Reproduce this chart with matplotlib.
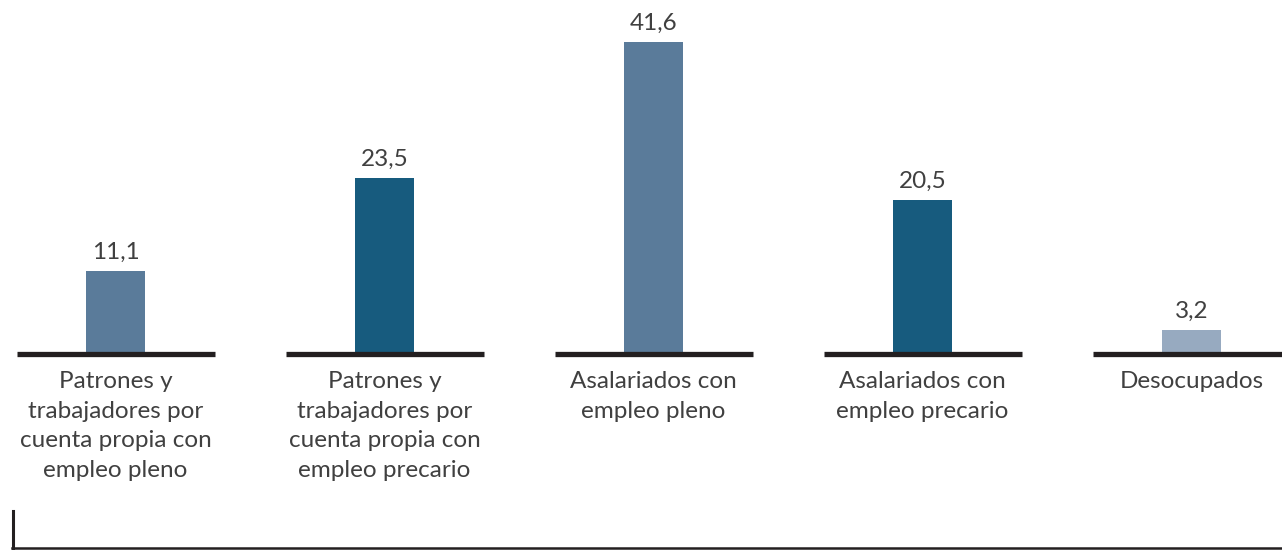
import matplotlib.pyplot as plt
from matplotlib.lines import Line2D

categories = [
    "Patrones y\ntrabajadores por\ncuenta propia con\nempleo pleno",
    "Patrones y\ntrabajadores por\ncuenta propia con\nempleo precario",
    "Asalariados con\nempleo pleno",
    "Asalariados con\nempleo precario",
    "Desocupados",
]
values = [11.1, 23.5, 41.6, 20.5, 3.2]
value_labels = ["11,1", "23,5", "41,6", "20,5", "3,2"]
colors = ["#5a7b9a", "#175b7e", "#5a7b9a", "#175b7e", "#97aac0"]

plt.rcParams['font.family'] = ['Lato', 'DejaVu Sans']
text_color = "#404040"

W, H = 1282, 550
fig = plt.figure(figsize=(W / 100, H / 100), dpi=100)
ax = fig.add_axes([0, 0, 1, 1])

# pixel geometry -> data limits
spacing = 269.0
px_per_unit = 7.5
x0 = 115.5
base_px = 196.0
ax.set_xlim(-x0 / spacing, (W - x0) / spacing)
ax.set_ylim(-base_px / px_per_unit, (H - base_px) / px_per_unit)

xs = list(range(len(values)))
ax.bar(xs, values, width=59 / spacing, color=colors, zorder=2)

for x in xs:
    ax.plot([x - 0.366, x + 0.37], [0, 0], color="#231f20", lw=3.8,
            solid_capstyle="butt", zorder=3)

for x, v, lab in zip(xs, values, value_labels):
    ax.annotate(lab, (x, v), xytext=(0, 6), textcoords="offset points",
                ha="center", va="bottom", fontsize=17.5, color=text_color)

for x, cat in zip(xs, categories):
    ax.annotate(cat, (x, 0), xytext=(0, -12.5), textcoords="offset points",
                ha="center", va="top", fontsize=17.5, color=text_color,
                linespacing=1.5)

ax.axis("off")

# frame fragment at the bottom
fig.add_artist(Line2D([13 / W, 13 / W], [2 / H, 39 / H], color="#231f20", lw=2.2))
fig.add_artist(Line2D([12 / W, 1.0], [2 / H, 2 / H], color="#231f20", lw=1.8))

fig.savefig("out.png", dpi=100)
